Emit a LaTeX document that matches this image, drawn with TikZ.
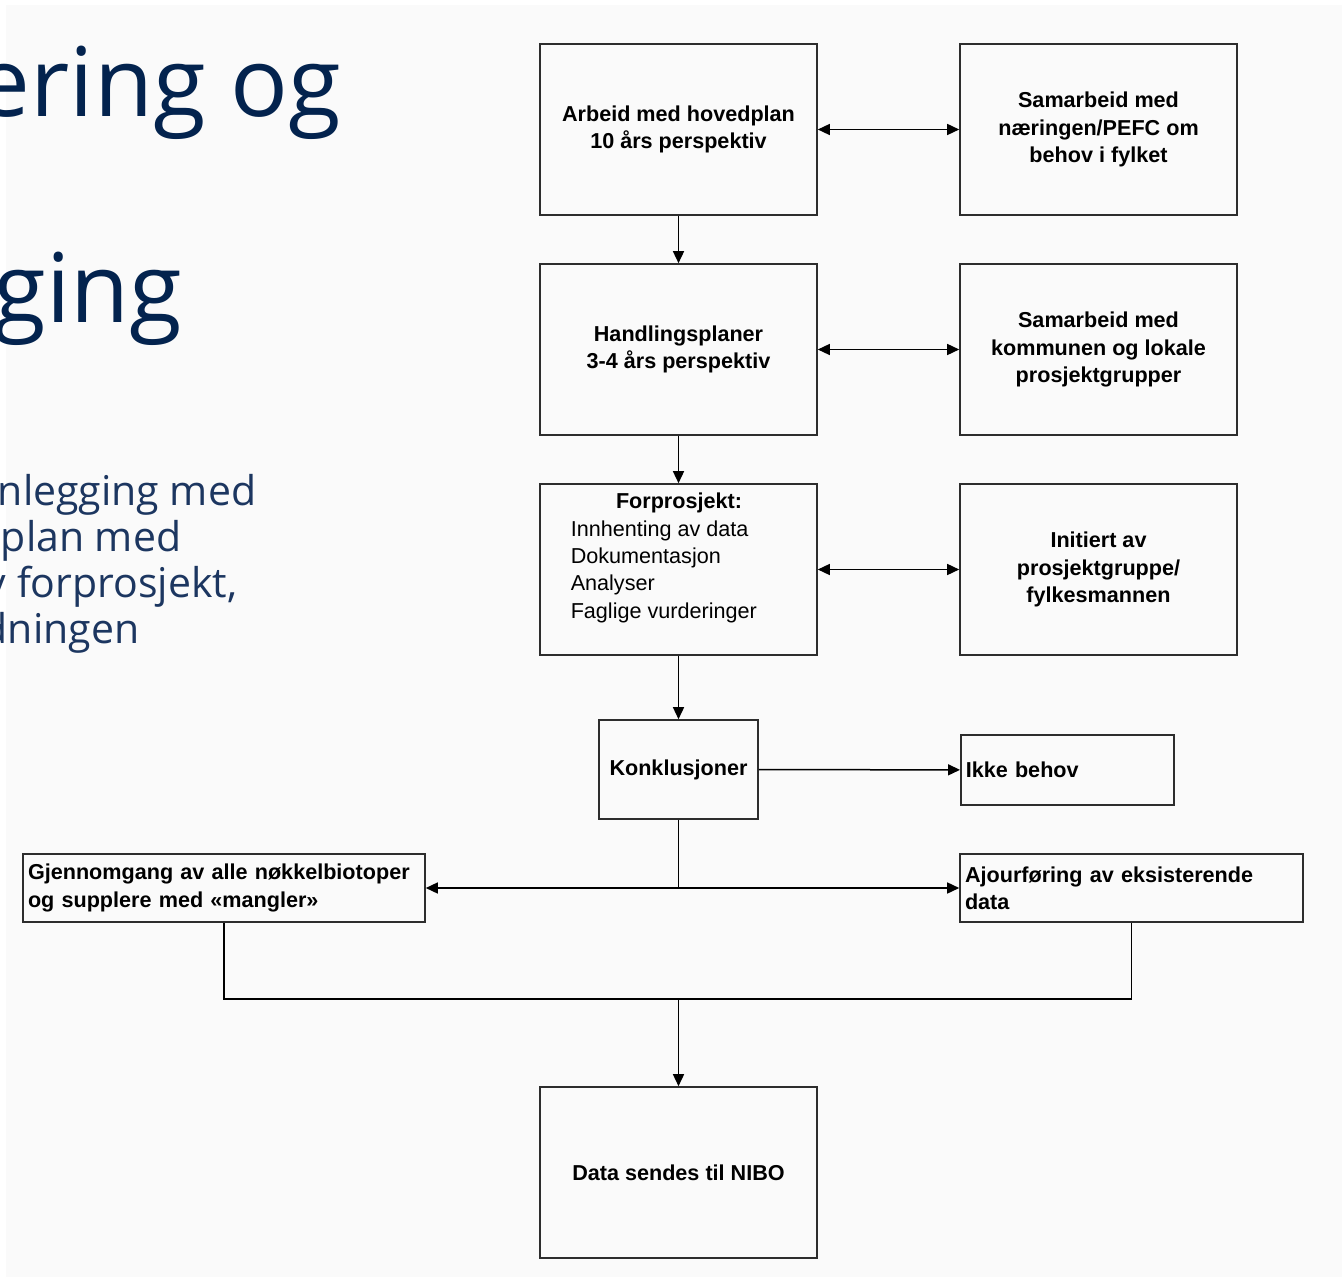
\documentclass[tikz,border=0pt]{standalone}
\usepackage{fontspec}
\setmainfont{Liberation Sans}
\newfontfamily\slidefont{Open Sans}
\usetikzlibrary{positioning,arrows.meta}

\definecolor{slidebg}{HTML}{FAFAFA}
\definecolor{titleblue}{RGB}{3,35,78}
\definecolor{textblue}{RGB}{28,54,96}
\definecolor{framegray}{RGB}{45,45,45}

\tikzset{
  box/.style={draw=framegray, line width=0.8pt},
  bigbox/.style={box, minimum width=138.5pt, minimum height=85.5pt, align=center,
    font=\bfseries\fontsize{10.8}{13.6}\selectfont},
  flatbox/.style={box, align=left, inner xsep=2.5pt, inner ysep=0pt,
    font=\bfseries\fontsize{10.8}{13.6}\selectfont},
  titletext/.style={anchor=base east, inner sep=0pt, text=titleblue,
    font=\slidefont\fontsize{48}{56}\selectfont},
  slidetext/.style={anchor=base east, inner sep=0pt, text=textblue,
    font=\slidefont\fontsize{20.5}{25}\selectfont}
}

\begin{document}
\begin{tikzpicture}[x=0.5pt,y=-0.5pt,node distance=110pt,on grid,
  >={Triangle[length=6pt,width=5.5pt]},line width=0.75pt]
  \useasboundingbox (0,0) rectangle (1342,1277);
  \fill[slidebg] (6,5) rectangle (1342,1277);

  % slide text, cut at the left edge
  \begin{scope}
    \clip (0,0) rectangle (1342,1277);
    \node[titletext] (title1) at (342,117) {ering og};
    \node[titletext] (title2) at (183,323) {ging};
    \node[slidetext] (line1) at (257,506) {nlegging med};
    \node[slidetext] (line2) at (182,552) {dplan med};
    \node[slidetext] (line3) at (238,597) {v forprosjekt,};
    \node[slidetext] (line4) at (140,643) {dningen};
  \end{scope}

  \node[bigbox] (plan) at (678.5,129.5) {Arbeid med hovedplan\\10 års perspektiv};
  \node[bigbox] (naering) [right=210pt of plan] {Samarbeid med\\næringen/PEFC om\\behov i fylket};
  \node[bigbox] (handling) [below=of plan] {Handlingsplaner\\3-4 års perspektiv};
  \node[bigbox] (kommune) [right=210pt of handling] {Samarbeid med\\kommunen og lokale\\prosjektgrupper};
  \node[bigbox] (forprosjekt) [below=of handling] {};
  \node[bigbox] (initiert) [right=210pt of forprosjekt] {Initiert av\\prosjektgruppe/\\fylkesmannen};
  \node[anchor=base, inner sep=0pt, font=\bfseries\fontsize{10.8}{13.6}\selectfont] (forhead) at (679,509) {Forprosjekt:};
  \node[anchor=north west, inner sep=0pt, align=left, font=\fontsize{10.8}{13.6}\selectfont] (forlist) at (570,520)
    {Innhenting av data\\Dokumentasjon\\Analyser\\Faglige vurderinger};

  \node[bigbox, minimum width=79.5pt, minimum height=49.5pt] (konkl) [below=100pt of forprosjekt] {Konklusjoner};
  \node[flatbox, text width=101.5pt, minimum height=35pt, anchor=west] (ikke) at (960,770) {Ikke behov};
  \node[flatbox, text width=196pt, minimum height=34pt] (gjennomgang) at (224,888)
    {Gjennomgang av alle nøkkelbiotoper\\og supplere med «mangler»};
  \node[flatbox, text width=166.5pt, minimum height=34pt] (ajour) at (1131.5,888)
    {Ajourføring av eksisterende\\data};
  \node[bigbox] (nibo) at (678.5,1172.5) {Data sendes til NIBO};
  \coordinate (samle) at (678.5,999);

  \draw[<->] (plan) -- (naering);
  \draw[->] (plan) -- (handling);
  \draw[<->] (handling) -- (kommune);
  \draw[->] (handling) -- (forprosjekt);
  \draw[<->] (forprosjekt) -- (initiert);
  \draw[->] (forprosjekt) -- (konkl);
  \draw[->] (konkl) -- (ikke);
  \draw[->] (konkl.south) |- (gjennomgang.east);
  \draw[->] (konkl.south) |- (ajour.west);
  \draw (gjennomgang.south) |- (samle) -| (ajour.south);
  \draw[->] (samle) -- (nibo);
\end{tikzpicture}
\end{document}
